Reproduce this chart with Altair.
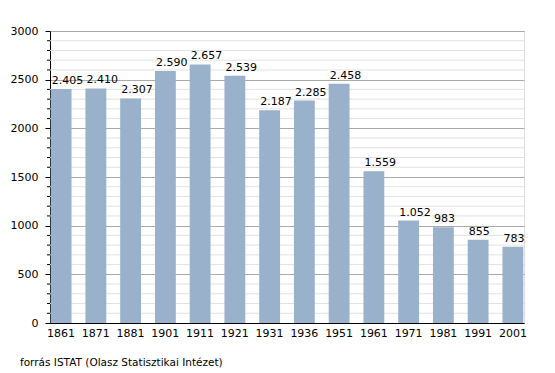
import altair as alt
import pandas as pd

years = ["1861", "1871", "1881", "1901", "1911", "1921", "1931", "1936", "1951", "1961", "1971", "1981", "1991", "2001"]
population = [2405, 2410, 2307, 2590, 2657, 2539, 2187, 2285, 2458, 1559, 1052, 983, 855, 783]
major_ticks = [0, 500, 1000, 1500, 2000, 2500, 3000]
minor_ticks = [v for v in range(0, 3001, 100) if v % 500 != 0]
caption = "forrás ISTAT (Olasz Statisztikai Intézet)"

df = pd.DataFrame({
    "year": years,
    "pop": population,
    "label": [f"{v:,}".replace(",", ".") for v in population],
})
minor_df = pd.DataFrame({"v": minor_ticks})

W, H = 474, 292
FONT = "DejaVu Sans"

yscale = alt.Scale(domain=[0, 3000], nice=False)
yaxis = alt.Axis(values=major_ticks, format="d", grid=True, gridColor="#aaaaaa",
                 tickSize=5, tickColor="black", domainColor="black",
                 labelColor="black", labelFontSize=11, labelFont=FONT,
                 labelPadding=7)

minor_grid = alt.Chart(minor_df).mark_rule(color="#e2e2e2", strokeWidth=1).encode(
    y=alt.Y("v:Q", scale=yscale, title=None, axis=yaxis),
    x=alt.value(0), x2=alt.value(W),
)
minor_tick = alt.Chart(minor_df).mark_rule(color="black", strokeWidth=1).encode(
    y=alt.Y("v:Q", scale=yscale, title=None),
    x=alt.value(-3), x2=alt.value(0),
)

xenc = alt.X("year:N", sort=years, title=None,
             scale=alt.Scale(paddingInner=0.4, paddingOuter=0.02),
             axis=alt.Axis(labelAngle=0, ticks=False, domainColor="black",
                           labelColor="black", labelFontSize=11, labelFont=FONT,
                           labelPadding=4))

bars = alt.Chart(df).mark_bar(color="#99b1cb").encode(
    x=xenc,
    y=alt.Y("pop:Q", scale=yscale, title=None),
)
texts = alt.Chart(df).mark_text(align="left", baseline="bottom", dx=1, dy=-3,
                                fontSize=11, font=FONT, color="black").encode(
    x=alt.X("year:N", sort=years, title=None, bandPosition=0),
    y=alt.Y("pop:Q", scale=yscale, title=None),
    text="label:N",
)
cap = alt.Chart(pd.DataFrame({"t": [caption]})).mark_text(
    align="left", baseline="middle", fontSize=10.5, font=FONT, color="black"
).encode(x=alt.value(-30), y=alt.value(H + 40), text="t:N")

chart = alt.layer(minor_grid, minor_tick, bars, texts, cap).properties(
    width=W, height=H,
    autosize=alt.AutoSizeParams(type="none"),
    padding={"left": 42, "top": 23, "right": 20, "bottom": 50},
).configure_view(stroke=None).configure(background="white")

chart.save("out.html", embed_options={"renderer": "svg", "actions": False})
